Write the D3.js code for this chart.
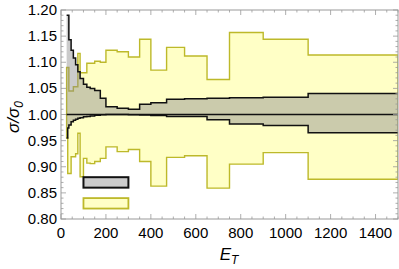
<!DOCTYPE html>
<html>
<head>
<meta charset="utf-8">
<script src="https://cdn.jsdelivr.net/npm/d3@7"></script>
<style>
  body { margin: 0; background: #fff; }
  svg { display: block; }
  text { font-family: "Liberation Sans", Arial, sans-serif; fill: #000; }
</style>
</head>
<body>
<svg width="399" height="269"></svg>
<script>
// bin edges in E_T, one value per bin in every series
const binEdges = [25, 30, 35, 45, 55, 65, 75, 85, 100, 115, 130, 150, 175, 200, 250, 300, 350, 400, 470, 550, 650, 750, 900, 1100, 1500];

const grayUpper = [1.190, 1.190, 1.143, 1.123, 1.108, 1.095, 1.082, 1.069, 1.058, 1.052, 1.050, 1.046, 1.031, 1.015, 1.012, 1.010, 1.0195, 1.0226, 1.029, 1.030, 1.031, 1.032, 1.033, 1.040];
const grayLower = [0.955, 0.974, 0.980, 0.986, 0.989, 0.991, 0.993, 0.994, 0.9955, 0.996, 0.997, 0.9987, 0.9995, 1.0002, 1.0002, 0.9995, 0.999, 0.998, 0.996, 0.996, 0.990, 0.982, 0.979, 0.965];

const yellowUpper = [1.090, 1.090, 1.045, 1.045, 1.053, 1.053, 1.117, 1.080, 1.080, 1.098, 1.098, 1.102, 1.100, 1.123, 1.120, 1.110, 1.144, 1.085, 1.1285, 1.112, 1.067, 1.157, 1.144, 1.114];
const yellowLower = [0.955, 0.887, 0.887, 0.919, 0.919, 0.925, 0.964, 0.881, 0.916, 0.907, 0.906, 0.910, 0.916, 0.938, 0.929, 0.933, 0.910, 0.863, 0.918, 0.921, 0.859, 0.905, 0.927, 0.876];

const referenceLevel = 1.0;

const legendX = [100, 300];
const legendGrayY = [0.86, 0.88];
const legendYellowY = [0.82, 0.84];

const xMajorTicks = [0, 200, 400, 600, 800, 1000, 1200, 1400];
const yMajorTicks = [0.80, 0.85, 0.90, 0.95, 1.00, 1.05, 1.10, 1.15, 1.20];

const svg = d3.select("svg");
const pLeft = 61, pRight = 398, pTop = 10, pBottom = 219;

const x = d3.scaleLinear().domain([0, 1500]).range([pLeft, pRight]);
const y = d3.scaleLinear().domain([0.8, 1.2]).range([pBottom, pTop]);

svg.append("defs").append("clipPath").attr("id", "plot")
    .append("rect")
    .attr("x", pLeft).attr("y", pTop)
    .attr("width", pRight - pLeft).attr("height", pBottom - pTop);

function steps(lo, hi) {
    return binEdges.map(function(e, i) {
        const k = Math.min(i, lo.length - 1);
        return { x: e, lo: lo[k], hi: hi[k] };
    });
}

const yellowPts = steps(yellowLower, yellowUpper);
const grayPts = steps(grayLower, grayUpper);

const area = d3.area()
    .curve(d3.curveStepAfter)
    .x(function(d) { return x(d.x); })
    .y0(function(d) { return y(d.lo); })
    .y1(function(d) { return y(d.hi); });

const lineHi = d3.line().curve(d3.curveStepAfter)
    .x(function(d) { return x(d.x); })
    .y(function(d) { return y(d.hi); });
const lineLo = d3.line().curve(d3.curveStepAfter)
    .x(function(d) { return x(d.x); })
    .y(function(d) { return y(d.lo); });

const g = svg.append("g").attr("clip-path", "url(#plot)");

// yellow band
g.append("path")
    .attr("d", area(yellowPts))
    .attr("fill", "#ffffc6")
    .attr("stroke", "#bdb92a")
    .attr("stroke-width", 1.4);

// gray band
g.append("path")
    .attr("d", area(grayPts))
    .attr("fill", "rgba(140,140,140,0.45)")
    .attr("stroke", "none");
g.append("path")
    .attr("d", lineHi(grayPts))
    .attr("fill", "none").attr("stroke", "#111").attr("stroke-width", 1.5);
g.append("path")
    .attr("d", lineLo(grayPts))
    .attr("fill", "none").attr("stroke", "#111").attr("stroke-width", 1.5);

// reference line
g.append("line")
    .attr("x1", x(binEdges[0])).attr("x2", x(1500))
    .attr("y1", y(referenceLevel)).attr("y2", y(referenceLevel))
    .attr("stroke", "#111").attr("stroke-width", 1.5);

// legend boxes
svg.append("rect")
    .attr("x", x(legendX[0])).attr("y", y(legendGrayY[1]))
    .attr("width", x(legendX[1]) - x(legendX[0]))
    .attr("height", y(legendGrayY[0]) - y(legendGrayY[1]))
    .attr("fill", "#cccccc").attr("stroke", "#111").attr("stroke-width", 2);
svg.append("rect")
    .attr("x", x(legendX[0])).attr("y", y(legendYellowY[1]))
    .attr("width", x(legendX[1]) - x(legendX[0]))
    .attr("height", y(legendYellowY[0]) - y(legendYellowY[1]))
    .attr("fill", "#ffffc6").attr("stroke", "#bdb92a").attr("stroke-width", 1.8);

// frame with ticks on all sides
const frameColor = "#999999";
const xMinor = d3.range(0, 1501, 50).filter(function(v) { return v % 200 !== 0; });
const yMinor = d3.range(80, 121, 1).map(function(v) { return v / 100; })
    .filter(function(v) { return Math.round(v * 100) % 5 !== 0; });

const ticks = svg.append("g").attr("stroke", frameColor).attr("stroke-width", 0.8);
xMajorTicks.forEach(function(v) {
    ticks.append("line").attr("x1", x(v)).attr("x2", x(v)).attr("y1", pBottom).attr("y2", pBottom - 5);
    ticks.append("line").attr("x1", x(v)).attr("x2", x(v)).attr("y1", pTop).attr("y2", pTop + 5);
});
xMinor.forEach(function(v) {
    ticks.append("line").attr("x1", x(v)).attr("x2", x(v)).attr("y1", pBottom).attr("y2", pBottom - 2.5);
    ticks.append("line").attr("x1", x(v)).attr("x2", x(v)).attr("y1", pTop).attr("y2", pTop + 2.5);
});
yMajorTicks.forEach(function(v) {
    ticks.append("line").attr("x1", pLeft).attr("x2", pLeft + 5).attr("y1", y(v)).attr("y2", y(v));
    ticks.append("line").attr("x1", pRight).attr("x2", pRight - 5).attr("y1", y(v)).attr("y2", y(v));
});
yMinor.forEach(function(v) {
    ticks.append("line").attr("x1", pLeft).attr("x2", pLeft + 2.5).attr("y1", y(v)).attr("y2", y(v));
    ticks.append("line").attr("x1", pRight).attr("x2", pRight - 2.5).attr("y1", y(v)).attr("y2", y(v));
});

svg.append("rect")
    .attr("x", pLeft).attr("y", pTop)
    .attr("width", pRight - pLeft).attr("height", pBottom - pTop)
    .attr("fill", "none").attr("stroke", frameColor).attr("stroke-width", 1);

// tick labels
svg.append("g").selectAll("text").data(xMajorTicks).enter()
    .append("text")
    .attr("x", function(d) { return x(d); })
    .attr("y", 238)
    .attr("text-anchor", "middle")
    .attr("font-size", "15px")
    .text(function(d) { return d; });

svg.append("g").selectAll("text").data(yMajorTicks).enter()
    .append("text")
    .attr("x", 57)
    .attr("y", function(d) { return y(d) + 5; })
    .attr("text-anchor", "end")
    .attr("font-size", "15px")
    .text(function(d) { return d3.format(".2f")(d); });

// axis titles
const xt = svg.append("text")
    .attr("x", 229).attr("y", 260)
    .attr("text-anchor", "middle")
    .attr("font-size", "17px")
    .attr("font-style", "italic");
xt.append("tspan").text("E");
xt.append("tspan").attr("font-size", "12px").attr("dy", 4).text("T");

const yt = svg.append("text")
    .attr("transform", "translate(19,117) rotate(-90)")
    .attr("text-anchor", "middle")
    .attr("font-size", "17px")
    .attr("font-style", "italic");
yt.append("tspan").text("σ/σ");
yt.append("tspan").attr("font-size", "12px").attr("dy", 4).text("0");
</script>
</body>
</html>
